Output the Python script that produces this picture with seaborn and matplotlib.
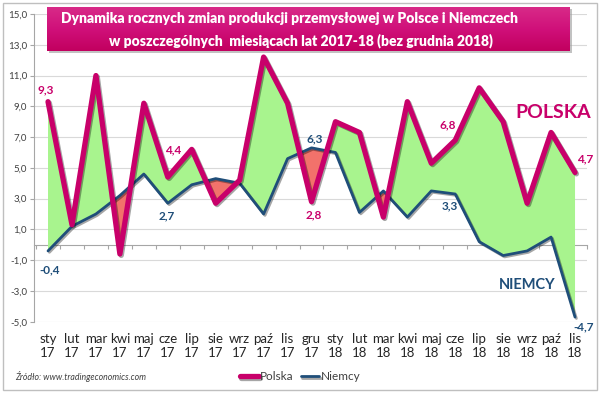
import numpy as np
import pandas as pd
import seaborn as sns
import matplotlib.pyplot as plt
import matplotlib.patheffects as pe
from matplotlib.colors import LinearSegmentedColormap

sns.set_style('white')
plt.rcParams['font.family'] = ['Lato', 'DejaVu Sans']

# dane: roczna dynamika produkcji przemysłowej (%)
miesiace = ['sty', 'lut', 'mar', 'kwi', 'maj', 'cze', 'lip', 'sie', 'wrz', 'paź', 'lis', 'gru',
            'sty', 'lut', 'mar', 'kwi', 'maj', 'cze', 'lip', 'sie', 'wrz', 'paź', 'lis']
lata = ['17'] * 12 + ['18'] * 11
polska = [9.3, 1.3, 11.0, -0.6, 9.2, 4.4, 6.2, 2.7, 4.2, 12.2, 9.2, 2.8,
          8.0, 7.3, 1.8, 9.3, 5.3, 6.8, 10.2, 8.0, 2.7, 7.3, 4.7]
niemcy = [-0.4, 1.2, 2.0, 3.2, 4.6, 2.7, 3.9, 4.3, 4.0, 2.0, 5.6, 6.3,
          6.0, 2.1, 3.5, 1.8, 3.5, 3.3, 0.2, -0.7, -0.4, 0.5, -4.7]
y_ticks = [-5, -3, -1, 1, 3, 5, 7, 9, 11, 13, 15]

# etykiety danych: (indeks, przesunięcie w px)
etykiety_pl = [(0, (-2, 12)), (5, (5, 27)), (11, (2, -13)), (17, (-7, 15)), (22, (10, 14))]
etykiety_de = [(0, (2, -19)), (5, (-1, -13)), (11, (3, 9)), (17, (-5, -12)), (22, (9, -10))]

df = pd.DataFrame({'x': np.arange(len(miesiace)), 'Polska': polska, 'Niemcy': niemcy})

kol_pl = '#C8006A'
kol_de = '#1F4E79'
zielony = '#A8F48E'
czerwony = '#F2726B'

fig = plt.figure(figsize=(6, 3.93), dpi=100)
ax = fig.add_axes([34/600, 1 - 321.7/393, (587 - 34)/600, (321.7 - 14)/393])

ax.fill_between(df['x'], df['Polska'], df['Niemcy'], where=df['Polska'] >= df['Niemcy'],
                interpolate=True, color=zielony, lw=0, zorder=1)
ax.fill_between(df['x'], df['Polska'], df['Niemcy'], where=df['Polska'] < df['Niemcy'],
                interpolate=True, color=czerwony, lw=0, zorder=1)

sns.lineplot(data=df, x='x', y='Niemcy', ax=ax, color=kol_de, lw=2.0, label='Niemcy', zorder=3,
             path_effects=[pe.SimpleLineShadow(offset=(1, -1), alpha=0.35), pe.Normal()])
sns.lineplot(data=df, x='x', y='Polska', ax=ax, color=kol_pl, lw=3.8, label='Polska', zorder=4,
             path_effects=[pe.SimpleLineShadow(offset=(1, -1), alpha=0.35), pe.Normal()])

ax.set_xlim(-0.585, 22.5)
ax.set_ylim(-5, 15)
ax.set_yticks(y_ticks)
ax.set_yticklabels([f'{v:.1f}'.replace('.', ',') for v in y_ticks], fontsize=7, color='#404040')
ax.set_xticks(df['x'])
ax.set_xticklabels([f'{m}\n{r}' for m, r in zip(miesiace, lata)], fontsize=9.5, color='#262626',
                   linespacing=1.25)
ax.tick_params(axis='x', length=0, pad=8)
ax.tick_params(axis='y', length=3, direction='out', color='#A6A6A6', pad=2, left=True)
ax.set_xlabel('')
ax.set_ylabel('')
ax.yaxis.grid(True, color='#D9D9D9', lw=0.8)
ax.xaxis.grid(False)
for s in ['top', 'right', 'bottom']:
    ax.spines[s].set_visible(False)
ax.spines['left'].set_color('#A6A6A6')

# oś kategorii na poziomie zera
sec = ax.secondary_xaxis(0.25)
sec.set_xticks(np.arange(-0.5, 23, 1))
sec.set_xticklabels([])
sec.tick_params(length=3, direction='out', color='#A6A6A6')
sec.spines['bottom'].set_color('#A6A6A6')

for i, (dx, dy) in etykiety_pl:
    ax.annotate(f'{polska[i]:.1f}'.replace('.', ','), (i, polska[i]), xytext=(dx, dy),
                textcoords='offset pixels', ha='center', va='center', fontsize=8.5,
                fontweight='bold', color=kol_pl, zorder=6)
for i, (dx, dy) in etykiety_de:
    ax.annotate(f'{niemcy[i]:.1f}'.replace('.', ','), (i, niemcy[i]), xytext=(dx, dy),
                textcoords='offset pixels', ha='center', va='center', fontsize=8.5,
                fontweight='bold', color=kol_de, zorder=6)

fig.text(553/600, 1 - 112/393, 'POLSKA', ha='center', va='center', fontsize=14,
         fontweight='bold', color=kol_pl)
fig.text(527/600, 1 - 285/393, 'NIEMCY', ha='center', va='center', fontsize=10.5,
         fontweight='bold', color=kol_de)

ax.get_legend().remove()
h = {l.get_label(): l for l in ax.get_lines()}
leg = fig.legend([h['Polska'], h['Niemcy']], ['Polska', 'Niemcy'], loc='center',
                 bbox_to_anchor=(300/600, 1 - 377/393), ncol=2, frameon=False, fontsize=8.5,
                 handlelength=1.6, handletextpad=0.1, columnspacing=0.6)
for t in leg.get_texts():
    t.set_color('#404040')

fig.text(15/600, 1 - 377/393, 'Źródło: www.tradingeconomics.com', style='italic', fontsize=6.3,
         va='center', color='#404040')

# tytuł w ramce z gradientem
cien = fig.add_axes([49/600, 1 - 53/393, 523/600, 44/393])
cien.set_facecolor('#9a9a9a')
cien.set_xticks([])
cien.set_yticks([])
for s in cien.spines.values():
    s.set_visible(False)
cien.patch.set_alpha(0.6)
tyt = fig.add_axes([47/600, 1 - 51/393, 523/600, 44/393])
cmap = LinearSegmentedColormap.from_list('tyt', ['#C2005F', '#D0107A', '#D82A88'])
tyt.imshow(np.linspace(0, 1, 50).reshape(-1, 1), aspect='auto', cmap=cmap, extent=[0, 1, 0, 1],
           origin='lower')
tyt.set_axis_off()
tyt.text(0.464, 0.74, 'Dynamika rocznych zmian produkcji przemysłowej w Polsce i Niemczech',
         ha='center', va='center', color='white', fontsize=10, fontweight='heavy')
tyt.text(0.486, 0.23, 'w poszczególnych  miesiącach lat 2017-18 (bez grudnia 2018)',
         ha='center', va='center', color='white', fontsize=10, fontweight='heavy')

fig.patches.append(plt.Rectangle((3/600, 3/393), 594/600, 387/393, transform=fig.transFigure,
                                 fill=False, edgecolor='#BFBFBF', lw=1))

fig.savefig('out.png', dpi=100)
